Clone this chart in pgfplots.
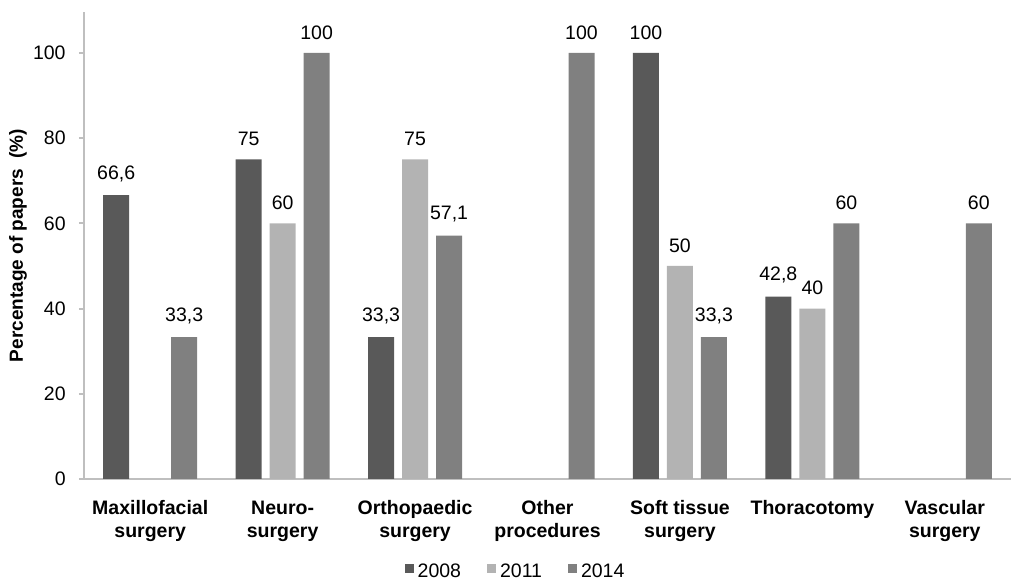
\documentclass[border=0pt]{standalone}
\usepackage{fontspec}
\setmainfont{Liberation Sans}
\usepackage{pgfplots}
\pgfplotsset{compat=1.18}
\definecolor{c08}{HTML}{595959}
\definecolor{c11}{HTML}{B3B3B3}
\definecolor{c14}{HTML}{808080}
\definecolor{axgray}{HTML}{BFBFBF}

\begin{document}
\begin{tikzpicture}
\begin{axis}[
  scale only axis, width=463.5pt, height=233.5pt,
  ybar=4pt, bar width=13pt,
  xmin=-0.5, xmax=6.5, ymin=0, ymax=109.6,
  axis lines=left, axis line style={-, axgray, line width=1pt},
  xtick={0,...,6},
  xticklabels={{Maxillofacial\strut\\surgery\strut},{Neuro-\strut\\surgery\strut},{Orthopaedic\strut\\surgery\strut},{Other\strut\\procedures\strut},{Soft tissue\strut\\surgery\strut},{Thoracotomy\strut},{Vascular\strut\\surgery\strut}},
  xtick style={draw=none},
  xticklabel style={align=center, anchor=north, inner sep=0pt, yshift=-7pt,
    font=\fontsize{9.75}{11.5}\selectfont\bfseries},
  ytick={0,20,...,100},
  ytick style={axgray, line width=1pt},
  tick align=outside, major tick length=2.5pt,
  yticklabel style={anchor=east, inner sep=0pt, xshift=-6.5pt, font=\fontsize{9.75}{11.5}\selectfont},
  /pgf/number format/assume math mode=true,
  ylabel={Percentage of papers\ \ (\%)},
  ylabel style={at={(axis description cs:-0.0712,0.5)}, anchor=center, rotate=0,
    font=\fontsize{9.5}{11}\selectfont\bfseries},
  point meta=explicit symbolic,
  nodes near coords,
  every node near coord/.append style={inner sep=0pt, yshift=6.5pt, font=\fontsize{9.75}{11.5}\selectfont},
  legend columns=3,
  legend style={at={(0.4666,-0.199)}, anchor=center, draw=none, inner sep=0pt,
    font=\fontsize{9.75}{11.5}\selectfont,
    /tikz/every even column/.append style={column sep=11pt}},
  legend image code/.code={\fill[#1,draw=none] (0pt,-0.5pt) rectangle (4.5pt,4pt);},
]
\coordinate (O) at (rel axis cs:0,0);
\addplot[fill=c08, draw=none] coordinates {(0,66.6) [66,6] (1,75) [75] (2,33.3) [33,3] (4,100) [100] (5,42.8) [42,8]};
\addplot[fill=c11, draw=none] coordinates {(1,60) [60] (2,75) [75] (4,50) [50] (5,40) [40]};
\addplot[fill=c14, draw=none] coordinates {(0,33.3) [33,3] (1,100) [100] (2,57.1) [57,1] (3,100) [100] (4,33.3) [33,3] (5,60) [60] (6,60) [60]};
\legend{2008,2011,2014}
\end{axis}
\pgfresetboundingbox
\path[use as bounding box] (O) ++(-42pt,-52pt) rectangle ++(505.5pt,291.5pt);
\end{tikzpicture}
\end{document}
